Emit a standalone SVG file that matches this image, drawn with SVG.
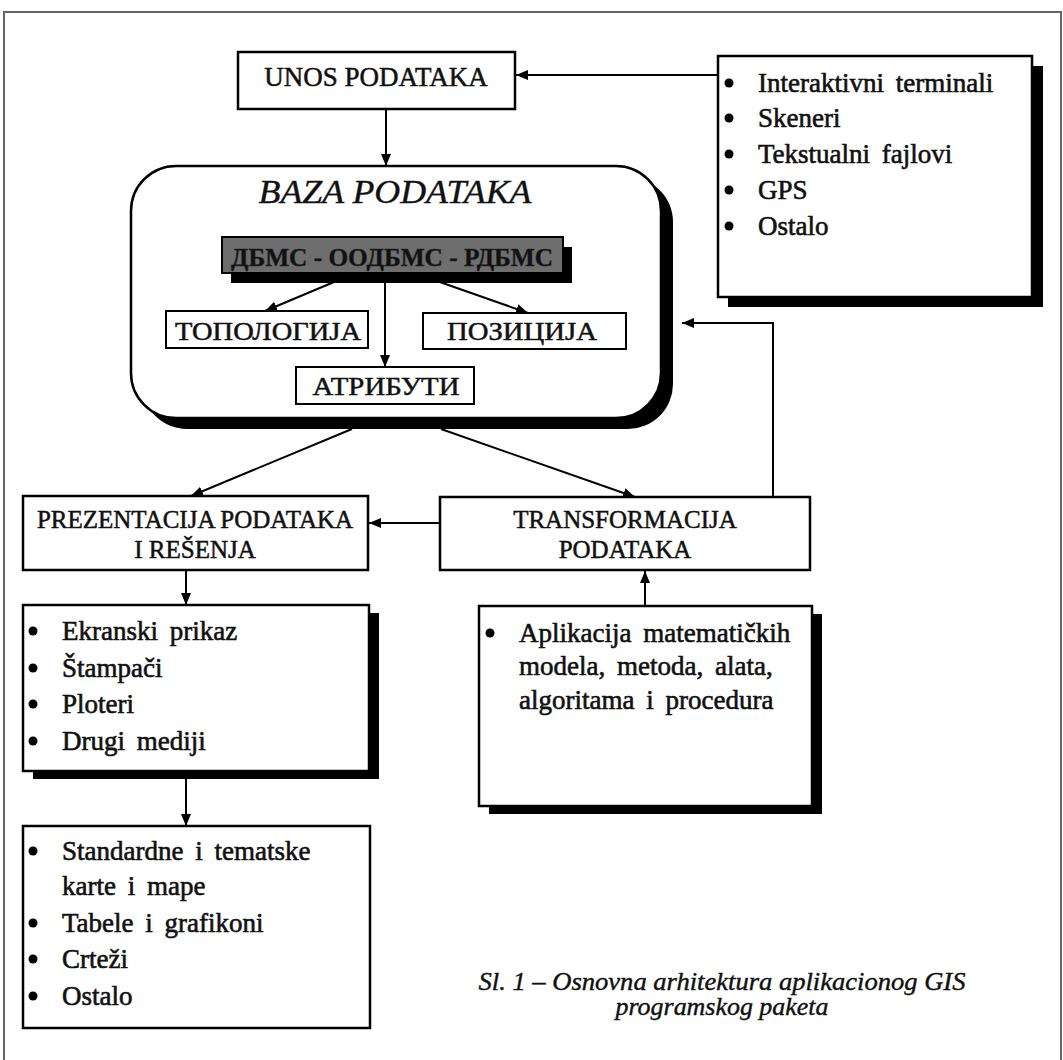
<svg xmlns="http://www.w3.org/2000/svg" width="1063" height="1060" viewBox="0 0 1063 1060">
<defs>
<marker id="ah" markerUnits="userSpaceOnUse" markerWidth="12" markerHeight="10" refX="12" refY="5" orient="auto">
<path d="M0,0 L12,5 L0,10 z" fill="#000"/>
</marker>
<style>
.box{fill:#fff;stroke:#000;stroke-width:2.5}
.thin{fill:#fff;stroke:#000;stroke-width:2}
.sh{fill:#000}
.t{font-family:"Liberation Serif","Times New Roman",serif;font-size:27px;fill:#111;stroke:#111;stroke-width:0.6;word-spacing:5px}
.lbl{font-family:"Liberation Serif","Times New Roman",serif;font-size:25px;fill:#111;stroke:#111;stroke-width:0.5;text-anchor:middle}
.it{font-family:"Liberation Serif","Times New Roman",serif;font-style:italic;fill:#111;stroke:#111;stroke-width:0.4;text-anchor:middle}
.conn{stroke:#000;stroke-width:2;fill:none;marker-end:url(#ah)}
.bul{fill:#000}
</style>
</defs>
<rect x="4" y="12" width="1057" height="1060" fill="none" stroke="#666" stroke-width="2"/>

<g id="unos">
<rect class="box" x="238" y="52" width="277" height="57" stroke-width="3"/>
<text class="lbl" x="376" y="86" style="font-size:27px">UNOS PODATAKA</text>
</g>

<g id="ulazni-uredjaji">
<rect class="sh" x="728" y="66" width="315" height="241"/>
<rect class="box" x="718" y="56" width="314" height="241"/>
<circle class="bul" cx="729" cy="83" r="4.5"/><text class="t" x="758" y="92">Interaktivni terminali</text>
<circle class="bul" cx="729" cy="118" r="4.5"/><text class="t" x="758" y="127">Skeneri</text>
<circle class="bul" cx="729" cy="154" r="4.5"/><text class="t" x="758" y="163">Tekstualni fajlovi</text>
<circle class="bul" cx="729" cy="190" r="4.5"/><text class="t" x="758" y="199">GPS</text>
<circle class="bul" cx="729" cy="226" r="4.5"/><text class="t" x="758" y="235">Ostalo</text>
</g>

<g id="baza">
<rect class="sh" x="142" y="177" width="531" height="252" rx="45"/>
<rect class="box" x="131" y="166" width="530" height="252" rx="45"/>
<text class="it" x="395" y="203" style="font-size:33px" textLength="273" lengthAdjust="spacingAndGlyphs">BAZA PODATAKA</text>
</g>

<g id="dbms">
<rect class="sh" x="231" y="247" width="341" height="36"/>
<rect x="222" y="237" width="341" height="36" fill="#6e6e6e" stroke="#000" stroke-width="2"/>
<text x="392" y="266" text-anchor="middle" style="font-family:'Liberation Serif','Times New Roman',serif;font-size:26px;font-weight:bold;fill:#111;stroke:#222;stroke-width:0.5" textLength="322" lengthAdjust="spacingAndGlyphs">ДБМС - ООДБМС - РДБМС</text>
</g>

<g id="topologija">
<rect class="thin" x="166" y="311" width="202" height="37"/>
<text class="lbl" x="268" y="340" style="font-size:26px" textLength="186" lengthAdjust="spacingAndGlyphs">ТОПОЛОГИЈА</text>
</g>

<g id="pozicija">
<rect class="thin" x="423" y="313" width="203" height="36"/>
<text class="lbl" x="522" y="340" style="font-size:26px" textLength="150" lengthAdjust="spacingAndGlyphs">ПОЗИЦИЈА</text>
</g>

<g id="atributi">
<rect class="thin" x="296" y="367" width="178" height="37"/>
<text class="lbl" x="386" y="395" style="font-size:26px" textLength="147" lengthAdjust="spacingAndGlyphs">АТРИБУТИ</text>
</g>

<g id="prezentacija">
<rect class="box" x="23" y="496" width="345" height="74"/>
<text class="lbl" x="195" y="528">PREZENTACIJA PODATAKA</text>
<text class="lbl" x="195" y="558">I REŠENJA</text>
</g>

<g id="transformacija">
<rect class="box" x="440" y="497" width="370" height="73"/>
<text class="lbl" x="625" y="528">TRANSFORMACIJA</text>
<text class="lbl" x="625" y="558">PODATAKA</text>
</g>

<g id="izlazni-uredjaji">
<rect class="sh" x="33" y="613" width="346" height="166"/>
<rect class="box" x="23" y="605" width="346" height="166"/>
<circle class="bul" cx="33" cy="631" r="4.5"/><text class="t" x="62" y="640">Ekranski prikaz</text>
<circle class="bul" cx="33" cy="668" r="4.5"/><text class="t" x="62" y="677">Štampači</text>
<circle class="bul" cx="33" cy="704" r="4.5"/><text class="t" x="62" y="713">Ploteri</text>
<circle class="bul" cx="33" cy="741" r="4.5"/><text class="t" x="62" y="750">Drugi mediji</text>
</g>

<g id="aplikacija">
<rect class="sh" x="489" y="614" width="333" height="200"/>
<rect class="box" x="479" y="606" width="333" height="200"/>
<circle class="bul" cx="490" cy="633" r="4.5"/><text class="t" x="519" y="642">Aplikacija matematičkih</text>
<text class="t" x="519" y="675">modela, metoda, alata,</text>
<text class="t" x="519" y="709">algoritama i procedura</text>
</g>

<g id="izlazi">
<rect class="box" x="23" y="826" width="347" height="202"/>
<circle class="bul" cx="33" cy="851" r="4.5"/><text class="t" x="62" y="860">Standardne i tematske</text>
<text class="t" x="62" y="895">karte i mape</text>
<circle class="bul" cx="33" cy="923" r="4.5"/><text class="t" x="62" y="932">Tabele i grafikoni</text>
<circle class="bul" cx="33" cy="959" r="4.5"/><text class="t" x="62" y="968">Crteži</text>
<circle class="bul" cx="33" cy="996" r="4.5"/><text class="t" x="62" y="1005">Ostalo</text>
</g>

<g id="naslov">
<text class="it" x="722" y="990" style="font-size:25px" textLength="487" lengthAdjust="spacingAndGlyphs">Sl. 1 – Osnovna arhitektura aplikacionog GIS</text>
<text class="it" x="722" y="1015" style="font-size:25px" textLength="213" lengthAdjust="spacingAndGlyphs">programskog paketa</text>
</g>

<g id="connectors">
<line class="conn" x1="718" y1="75" x2="516" y2="75"/>
<line class="conn" x1="386" y1="110" x2="386" y2="166"/>
<line class="conn" x1="353" y1="274" x2="265" y2="311"/>
<line class="conn" x1="385" y1="274" x2="385" y2="367"/>
<line class="conn" x1="417" y1="274" x2="528" y2="313"/>
<polyline class="conn" points="773,497 773,323 682,323"/>
<line class="conn" x1="352" y1="429" x2="191" y2="496"/>
<line class="conn" x1="441" y1="429" x2="635" y2="497"/>
<line class="conn" x1="440" y1="523" x2="369" y2="523"/>
<line class="conn" x1="186" y1="571" x2="186" y2="605"/>
<line class="conn" x1="186" y1="779" x2="186" y2="826"/>
<line class="conn" x1="645" y1="606" x2="645" y2="571"/>
</g>
</svg>
